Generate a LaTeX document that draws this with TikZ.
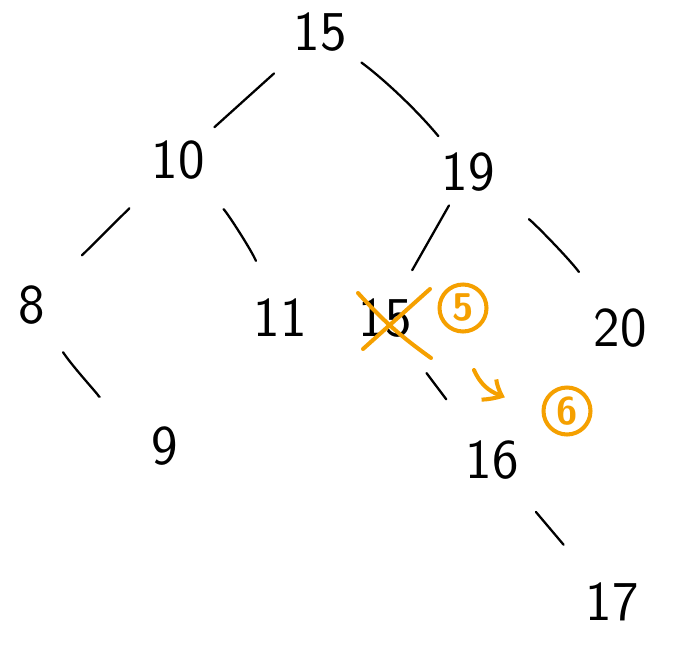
\documentclass[tikz,border=0pt]{standalone}
\usepackage{amsmath,amssymb}
\usetikzlibrary{arrows.meta,bending}
\definecolor{marker}{RGB}{245,160,0}

\begin{document}
\begin{tikzpicture}[x=0.02cm,y=-0.02cm,
    key/.style={inner sep=0pt,font=\sffamily\fontsize{32}{32}\selectfont},
    edge/.style={line width=1.3pt,line cap=round},
    strike/.style={marker,line width=2.3pt,line cap=round},
    tag/.style={circle,draw=marker,line width=2.3pt,text=marker,minimum size=0.94cm,inner sep=0pt,font=\sffamily\bfseries\fontsize{22}{22}\selectfont}]
  \useasboundingbox (0,0) rectangle (696,645);

  % keys of the tree
  \node[key] (t15) at (320,32) {15};
  \node[key] (n10) at (178,160) {10};
  \node[key] (n19) at (468,172) {19};
  \node[key] (n8) at (32,305) {8};
  \node[key] (n11) at (280,318) {11};
  \node[key] (n15b) at (385,318) {15};
  \node[key] (n20) at (620,328) {20};
  \node[key] (n9) at (165,446) {9};
  \node[key] (n16) at (492,460) {16};
  \node[key] (n17) at (612,602) {17};

  % branches
  \draw[edge,shorten <=1.24cm,shorten >=0.98cm] (t15.center) -- (n10.center);
  \draw[edge,shorten <=1.03cm,shorten >=0.93cm] (t15.center) to[bend left=7] (n19.center);
  \draw[edge,shorten <=1.37cm,shorten >=1.41cm] (n10.center) -- (n8.center);
  \draw[edge,shorten <=1.34cm,shorten >=1.24cm] (n10.center) to[bend left=10] (n11.center);
  \draw[edge,shorten <=0.77cm,shorten >=1.10cm] (n19.center) -- (n15b.center);
  \draw[edge,shorten <=1.54cm,shorten >=1.39cm] (n19.center) to[bend left=8] (n20.center);
  \draw[edge,shorten <=1.13cm,shorten >=1.66cm] (n8.center) to[bend right=10] (n9.center);
  \draw[edge,shorten <=1.38cm,shorten >=1.52cm] (n15b.center) -- (n16.center);
  \draw[edge,shorten <=1.36cm,shorten >=1.50cm] (n16.center) -- (n17.center);

  % deleted key and steps
  \coordinate (xa) at (358,293);
  \coordinate (xb) at (431,358);
  \coordinate (xc) at (363,349);
  \coordinate (xd) at (430,289);
  \draw[strike] (xa) to[bend right=6] (xb);
  \draw[strike] (xc) -- (xd);

  \node[tag] (s5) at (463,308) {5};
  \node[tag] (s6) at (567,411) {6};

  \coordinate (aa) at (474,370);
  \coordinate (ab) at (505,397);
  \draw[strike,-{Straight Barb[length=3mm,width=5mm,bend]}] (aa) to[bend right=25] (ab);
\end{tikzpicture}
\end{document}
